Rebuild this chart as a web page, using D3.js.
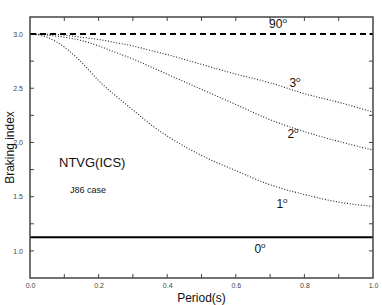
<!DOCTYPE html>
<html>
<head>
<meta charset="utf-8">
<script src="https://cdn.jsdelivr.net/npm/d3@7"></script>
<style>
  body { margin: 0; background: #fff; }
  text { font-family: "Liberation Sans", Arial, sans-serif; }
</style>
</head>
<body>
<div id="chart"></div>
<script>
// period values (s)
var periods = [0, 0.05, 0.1, 0.15, 0.2, 0.25, 0.3, 0.35, 0.4, 0.5, 0.6, 0.7, 0.8, 0.9, 1.0];

// braking index per inclination angle
var n1 = [3.0, 2.97, 2.88, 2.74, 2.57, 2.43, 2.30, 2.17, 2.06, 1.88, 1.74, 1.61, 1.52, 1.45, 1.41];
var n2 = [3.0, 2.99, 2.97, 2.94, 2.89, 2.83, 2.77, 2.70, 2.63, 2.49, 2.35, 2.21, 2.10, 2.01, 1.93];
var n3 = [3.0, 3.0, 2.99, 2.97, 2.95, 2.92, 2.89, 2.85, 2.81, 2.72, 2.63, 2.55, 2.45, 2.37, 2.28];
var n0 = 1.125;
var n90 = 3.0;

var xTicks = [0, 0.2, 0.4, 0.6, 0.8, 1.0];
var yTicks = [1.0, 1.5, 2.0, 2.5, 3.0];

var svgWidth = 382;
var svgHeight = 305;
var margin = { top: 17, right: 9, bottom: 27, left: 30 };
var width = svgWidth - margin.left - margin.right;
var height = svgHeight - margin.top - margin.bottom;

var svg = d3.select("#chart")
  .append("svg")
  .attr("width", svgWidth)
  .attr("height", svgHeight);

var chartGroup = svg.append("g")
  .attr("transform", `translate(${margin.left}, ${margin.top})`);

var x = d3.scaleLinear().domain([0, 1]).range([0, width]);
var y = d3.scaleLinear().domain([0.75, 3.157]).range([height, 0]);

// minor / major ticks on all four sides, pointing inward
function tickSet(g, scale, vals, len, side) {
  vals.forEach(function(v) {
    if (side === "bottom") g.append("line").attr("x1", scale(v)).attr("x2", scale(v)).attr("y1", height).attr("y2", height - len);
    if (side === "top") g.append("line").attr("x1", scale(v)).attr("x2", scale(v)).attr("y1", 0).attr("y2", len);
    if (side === "left") g.append("line").attr("y1", scale(v)).attr("y2", scale(v)).attr("x1", 0).attr("x2", len);
    if (side === "right") g.append("line").attr("y1", scale(v)).attr("y2", scale(v)).attr("x1", width).attr("x2", width - len);
  });
}
var ticks = chartGroup.append("g").attr("stroke", "#444").attr("stroke-width", 1);
var xMinor = d3.range(0.1, 1, 0.1);
var yMinor = d3.range(1.0, 3.01, 0.25);
["bottom", "top"].forEach(s => tickSet(ticks, x, xMinor, 4, s));
["left", "right"].forEach(s => tickSet(ticks, y, yMinor, 4, s));

// tick labels
chartGroup.append("g")
  .attr("transform", `translate(0, ${height})`)
  .call(d3.axisBottom(x).tickValues(xTicks).tickFormat(d3.format(".1f")).tickSize(0).tickPadding(5))
  .call(g => g.select(".domain").remove())
  .selectAll("text").attr("font-size", 7).attr("fill", "#444");

chartGroup.append("g")
  .call(d3.axisLeft(y).tickValues(yTicks).tickFormat(d3.format(".1f")).tickSize(0).tickPadding(7))
  .call(g => g.select(".domain").remove())
  .selectAll("text").attr("font-size", 7).attr("fill", "#444");

// lines
var line = d3.line()
  .x((d, i) => x(periods[i]))
  .y(d => y(d))
  .curve(d3.curveMonotoneX);

[n1, n2, n3].forEach(function(s) {
  chartGroup.append("path")
    .attr("d", line(s))
    .attr("fill", "none")
    .attr("stroke", "#222")
    .attr("stroke-width", 1.1)
    .attr("stroke-dasharray", "1,1.8");
});

chartGroup.append("line")
  .attr("x1", x(0)).attr("x2", x(1))
  .attr("y1", y(n90)).attr("y2", y(n90))
  .attr("stroke", "#000").attr("stroke-width", 2)
  .attr("stroke-dasharray", "6,4");

chartGroup.append("line")
  .attr("x1", x(0)).attr("x2", x(1))
  .attr("y1", y(n0)).attr("y2", y(n0))
  .attr("stroke", "#000").attr("stroke-width", 2);

// frame
chartGroup.append("rect")
  .attr("width", width).attr("height", height)
  .attr("fill", "none").attr("stroke", "#444").attr("stroke-width", 1.5);

// angle labels
var angleLabels = [
  { t: "90", px: 278, py: 28 },
  { t: "3", px: 295, py: 87 },
  { t: "2", px: 293, py: 138 },
  { t: "1", px: 282, py: 208 },
  { t: "0", px: 260, py: 253 }
];
angleLabels.forEach(function(l) {
  var t = svg.append("text")
    .attr("x", l.px).attr("y", l.py)
    .attr("text-anchor", "middle")
    .attr("font-size", 12)
    .attr("fill", "#111");
  t.append("tspan").text(l.t);
  t.append("tspan").attr("dy", -5).attr("font-size", 8).text("o");
});

svg.append("text")
  .attr("x", 59).attr("y", 167)
  .attr("font-size", 13)
  .attr("fill", "#111")
  .text("NTVG(ICS)");

svg.append("text")
  .attr("x", 70).attr("y", 193)
  .attr("font-size", 9)
  .attr("fill", "#111")
  .text("J86 case");

// axis titles
svg.append("text")
  .attr("x", margin.left + width / 2).attr("y", 302)
  .attr("text-anchor", "middle")
  .attr("font-size", 12)
  .attr("fill", "#111")
  .text("Period(s)");

svg.append("text")
  .attr("transform", `translate(14, ${margin.top + height / 2}) rotate(-90)`)
  .attr("text-anchor", "middle")
  .attr("font-size", 12)
  .attr("fill", "#111")
  .text("Braking index");
</script>
</body>
</html>
